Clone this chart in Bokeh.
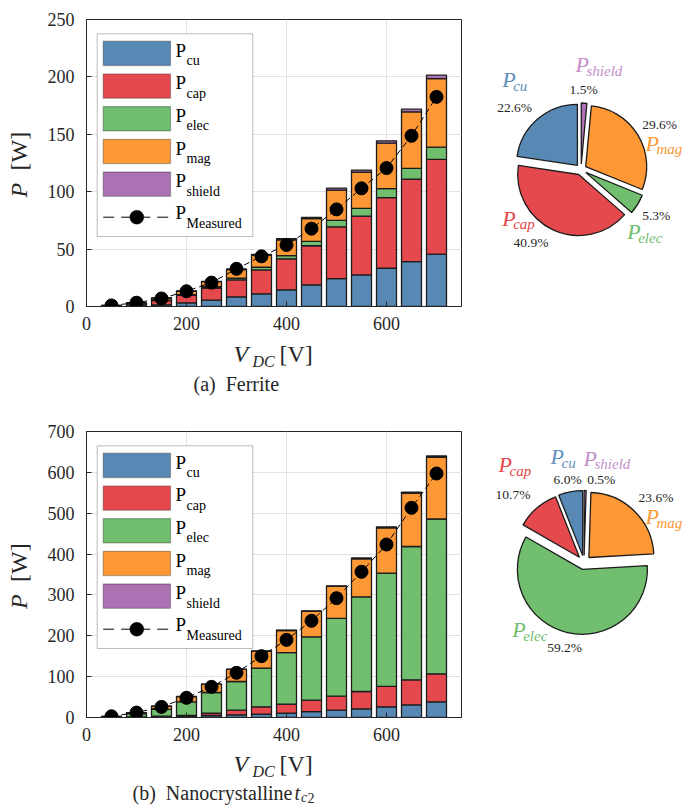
import math

from bokeh.plotting import figure
from bokeh.layouts import column, row
from bokeh.models import (ColumnDataSource, Range1d, FixedTicker, Label,
                          BoxAnnotation, Arrow)
from bokeh.embed import file_html
from bokeh.resources import INLINE

# ---------------------------------------------------------------- data
voltages = [50, 100, 150, 200, 250, 300, 350, 400, 450, 500, 550, 600, 650, 700]
loss_names = ["cu", "cap", "elec", "mag", "shield"]

# Ferrite core, loss breakdown [W]
ferrite_cu = [0.2, 0.6, 1.5, 3.2, 5.5, 8.4, 11.0, 14.5, 18.9, 24.3, 27.5, 33.3, 39.1, 45.6]
ferrite_cap = [0.5, 1.6, 3.6, 6.5, 10.6, 14.8, 20.9, 27.0, 34.0, 45.0, 51.3, 61.5, 71.9, 82.5]
ferrite_elec = [0.05, 0.2, 0.4, 0.7, 1.1, 1.6, 2.3, 2.8, 3.8, 5.8, 6.7, 7.8, 9.3, 10.7]
ferrite_mag = [0.2, 0.9, 1.9, 2.9, 4.4, 7.4, 10.4, 13.8, 19.8, 26.3, 31.6, 39.7, 49.3, 59.7]
ferrite_shield = [0.02, 0.05, 0.1, 0.2, 0.3, 0.5, 0.7, 1.0, 1.2, 1.8, 1.7, 2.0, 2.3, 3.0]
ferrite_measured = [0.9, 3.3, 7.0, 13.3, 20.8, 32.8, 43.7, 53.6, 67.8, 84.6, 102.9, 120.6, 148.7, 182.6]

# Nanocrystalline core (t_c2), loss breakdown [W]
nano_cu = [0.3, 0.6, 1.3, 1.8, 4.9, 6.6, 8.3, 10.8, 14.5, 18.0, 21.3, 26.2, 31.0, 38.4]
nano_cap = [0.4, 0.9, 2.0, 3.2, 5.9, 11.4, 17.9, 22.0, 28.0, 34.3, 42.3, 49.8, 61.3, 68.5]
nano_elec = [1.6, 8.0, 16.5, 33.4, 50.4, 70.1, 94.8, 126.2, 155.0, 190.1, 231.8, 277.4, 326.2, 378.9]
nano_mag = [0.6, 2.5, 8.0, 12.8, 20.3, 29.7, 41.5, 53.9, 62.3, 78.3, 93.2, 111.0, 130.3, 151.0]
nano_shield = [0.05, 0.1, 0.2, 0.3, 0.4, 0.6, 0.8, 1.0, 1.2, 1.6, 2.0, 2.4, 2.8, 3.2]
nano_measured = [3.0, 12.0, 26.0, 48.2, 75.0, 109.4, 150.2, 190.0, 236.7, 292.0, 356.6, 423.4, 513.2, 597.2]

x_ticks = [0, 200, 400, 600]
ferrite_y_ticks = [0, 50, 100, 150, 200, 250]
nano_y_ticks = [0, 100, 200, 300, 400, 500, 600, 700]

# ---------------------------------------------------------------- style
SERIF = "Liberation Serif"
INK = "#262626"
EDGE = "#1c1c1c"
loss_colors = ["#5889B4", "#E5484D", "#70BE6E", "#FD9834", "#AC72B4"]
name_colors = ["#5F90BC", "#E5484D", "#70BE6E", "#FD9834", "#C38ECB"]

PAGE_W = 683
YSTRIP_W = 40          # column holding the rotated y label
BAR_W = 430            # bar figure (tick labels + frame)
PIE_W = PAGE_W - YSTRIP_W - BAR_W
FRAME_W = 375
BAR_LEFT = 46
BAR_RIGHT = BAR_W - BAR_LEFT - FRAME_W
TICK_BAND = 33         # space under each frame for the x tick labels
MID_RISE = 0.34        # baseline -> vertical middle of the text box, in em


def put_text(p, x, y, text, size, color=INK, style="normal", units="screen",
             angle=0.0, align="left"):
    """(x, y) is the start of the text baseline; y grows upward."""
    rise = MID_RISE * size
    p.add_layout(Label(x=x - rise * math.sin(angle),
                       y=y + rise * math.cos(angle),
                       x_units=units, y_units=units, text=text,
                       text_font=SERIF, text_font_size=f"{size}px",
                       text_font_style=style, text_color=color,
                       text_align=align, text_baseline="middle",
                       angle=angle))


def page_text(p, x, y, text, size, **kw):
    """Text placed in page pixel coordinates on a page-mapped figure."""
    put_text(p, x, -y, text, size, units="data", **kw)


def screen_box(p, left, right, top, bottom, **kw):
    p.add_layout(BoxAnnotation(left=left, right=right, top=top, bottom=bottom,
                               left_units="screen", right_units="screen",
                               top_units="screen", bottom_units="screen",
                               fill_alpha=1.0, **kw))


def page_figure(width, height, x_lo, x_hi, y_top, y_bottom, border_top=0,
                border_bottom=0):
    """Axis-less figure whose data units are page pixels (y negated)."""
    p = figure(width=width, height=height,
               x_range=Range1d(x_lo, x_hi), y_range=Range1d(-y_bottom, -y_top),
               min_border=0, min_border_left=0, min_border_right=0,
               min_border_top=border_top, min_border_bottom=border_bottom,
               x_axis_location=None, y_axis_location=None,
               output_backend="svg", toolbar_location=None, title=None)
    p.grid.visible = False
    p.outline_line_color = None
    p.background_fill_color = "white"
    p.border_fill_color = "white"
    return p


def add_legend(p, fh):
    # all offsets are measured downward from the top of the frame
    def dn(v):
        return fh - v

    screen_box(p, 10.7, 166.3, dn(14.3), dn(217.0), fill_color="white",
               line_color=INK, line_width=1)
    for i, (name, col) in enumerate(zip(loss_names, loss_colors)):
        y0 = 21.7 + 32.7 * i
        screen_box(p, 16.7, 84.0, dn(y0), dn(y0 + 24.3), fill_color=col,
                   line_color=EDGE, line_width=1.3)
        put_text(p, 89, dn(y0 + 15.3), "P", 19, color="black")
        put_text(p, 100, dn(y0 + 24.0), name, 14, color="black")
    ym = 197.7
    p.add_layout(Arrow(end=None, x_start=16.7, y_start=dn(ym), x_end=84.0,
                       y_end=dn(ym), start_units="screen", end_units="screen",
                       line_color="black", line_width=1, line_dash="11 7"))
    screen_box(p, 50.3 - 7, 50.3 + 7, dn(ym - 7), dn(ym + 7),
               border_radius=7, fill_color="black", line_color="black",
               line_width=1)
    put_text(p, 89, dn(ym + 1.6), "P", 19, color="black")
    put_text(p, 100, dn(ym + 11.0), "Measured", 14, color="black")


def bar_panel(cu, cap, elec, mag, shield, measured, y_max, y_ticks, geom):
    row_y, frame_top, frame_h, border_bottom = geom
    src = ColumnDataSource(dict(V=voltages, cu=cu, cap=cap, elec=elec,
                                mag=mag, shield=shield))
    p = figure(frame_width=FRAME_W, frame_height=frame_h,
               x_range=Range1d(0, 750), y_range=Range1d(0, y_max),
               min_border_left=BAR_LEFT, min_border_right=BAR_RIGHT,
               min_border_top=frame_top - row_y, min_border_bottom=border_bottom,
               output_backend="svg", toolbar_location=None, title=None)
    p.background_fill_color = "white"
    p.border_fill_color = "white"
    p.outline_line_color = INK
    p.outline_line_width = 1
    p.outline_line_alpha = 1

    p.xaxis.ticker = FixedTicker(ticks=x_ticks)
    p.yaxis.ticker = FixedTicker(ticks=y_ticks)
    p.axis.major_label_text_font = SERIF
    p.axis.major_label_text_font_size = "18px"
    p.axis.major_label_text_color = INK
    p.axis.axis_line_color = INK
    p.axis.major_tick_line_color = INK
    p.axis.major_tick_in = 5
    p.axis.major_tick_out = 0
    p.axis.minor_tick_line_color = None
    p.xaxis.major_label_standoff = 10
    p.yaxis.major_label_standoff = 12
    p.grid.grid_line_color = "#E2E2E2"
    p.grid.grid_line_width = 1

    p.vbar_stack(loss_names, x="V", width=40, source=src,
                 fill_color=loss_colors, line_color=EDGE, line_width=1.3)
    p.line(voltages, measured, line_color="black", line_width=1,
           line_dash="6 4")
    p.scatter(voltages, measured, marker="circle", size=13,
              fill_color="black", line_color="black")

    add_legend(p, frame_h)
    return p


def row_height(geom):
    row_y, frame_top, frame_h, border_bottom = geom
    return frame_top - row_y + frame_h + border_bottom


def ylabel_panel(geom):
    row_y, frame_top, frame_h, border_bottom = geom
    p = page_figure(YSTRIP_W, row_height(geom), 0, YSTRIP_W, frame_top,
                    frame_top + frame_h, border_top=frame_top - row_y,
                    border_bottom=border_bottom)
    mid = frame_top + frame_h / 2
    page_text(p, 27, mid + 34.5, "P", 24, style="italic", angle=math.pi / 2)
    page_text(p, 27, mid + 7.5, "[W]", 24, angle=math.pi / 2)
    return p


def xlabel_panel(top, height, label_base, caption):
    p = page_figure(PAGE_W, height, 0, PAGE_W, top, top + height)
    base = top + label_base
    page_text(p, 233, base, "V", 24, style="italic")
    page_text(p, 252, base + 4.3, "DC", 16, style="italic")
    page_text(p, 279, base, "[V]", 24)
    for (x, dy, text, size, style) in caption:
        page_text(p, x, top + dy, text, size, style=style)
    return p


def pie_panel(values, center, radius, explode, geom, text_layout):
    row_y, frame_top, frame_h, border_bottom = geom
    p = page_figure(PIE_W, row_height(geom), PAGE_W - PIE_W, PAGE_W,
                    frame_top, frame_top + frame_h,
                    border_top=frame_top - row_y, border_bottom=border_bottom)
    total = sum(values)
    starts, ends, xs, ys = [], [], [], []
    a = math.pi / 2
    for v in values:
        span = 2 * math.pi * v / total
        mid = a + span / 2
        starts.append(a)
        ends.append(a + span)
        xs.append(center[0] + explode * math.cos(mid))
        ys.append(-center[1] + explode * math.sin(mid))
        a += span
    src = ColumnDataSource(dict(x=xs, y=ys, start=starts, end=ends,
                                color=loss_colors))
    p.wedge(x="x", y="y", radius=radius, start_angle="start",
            end_angle="end", direction="anticlock", fill_color="color",
            line_color=EDGE, line_width=1.3, source=src)

    for name, v, ncol in zip(loss_names, values, name_colors):
        (nx, ny), (px, py) = text_layout[name]
        page_text(p, nx, ny, "P", 22, color=ncol, style="italic")
        page_text(p, nx + 11, ny + 4, name, 15, color=ncol, style="italic")
        page_text(p, px, py, f"{100 * v / total:.1f}%", 13.5)
    return p


# text anchors (page pixels): name "P" baseline start, percentage baseline start
ferrite_pie_text = {
    "cu": ((501.7, 86.7), (496.7, 111.7)),
    "cap": ((501.7, 225.0), (513.0, 246.7)),
    "elec": ((626.7, 238.3), (641.7, 220.0)),
    "mag": ((645.0, 150.0), (641.7, 128.3)),
    "shield": ((575.0, 71.7), (569.0, 93.3)),
}
nano_pie_text = {
    "cu": ((550.0, 463.3), (553.0, 483.3)),
    "cap": ((498.0, 471.7), (495.0, 498.3)),
    "elec": ((511.7, 636.7), (546.7, 651.7)),
    "mag": ((645.0, 523.3), (638.0, 501.7)),
    "shield": ((583.0, 465.0), (586.7, 483.3)),
}

# ---------------------------------------------------------------- layout
# (row top, frame top, frame height, bottom border) in page pixels
TOP_GEOM = (0, 19, 287, TICK_BAND)
BOT_GEOM = (400, 431, 286, TICK_BAND)
top_strip = row_height(TOP_GEOM)                 # page y where the strip starts
bot_strip = 400 + row_height(BOT_GEOM)

# caption pieces: x, baseline offset from strip top, text, size, style
ferrite_caption = [(193, 390 - top_strip, "(a)\u00a0\u00a0Ferrite", 20, "normal")]
nano_caption = [(132, 799.5 - bot_strip, "(b)\u00a0\u00a0Nanocrystalline", 20, "normal"),
                (294, 799.5 - bot_strip, "t", 20, "italic"),
                (300.5, 802 - bot_strip, "c", 14, "italic"),
                (307, 802 - bot_strip, "2", 14, "normal")]

bar_top = bar_panel(ferrite_cu, ferrite_cap, ferrite_elec, ferrite_mag,
                    ferrite_shield, ferrite_measured, 250, ferrite_y_ticks,
                    TOP_GEOM)
bar_bottom = bar_panel(nano_cu, nano_cap, nano_elec, nano_mag, nano_shield,
                       nano_measured, 700, nano_y_ticks, BOT_GEOM)

# slices show the 700 V operating point
pie_top = pie_panel([s[-1] for s in (ferrite_cu, ferrite_cap, ferrite_elec,
                                     ferrite_mag, ferrite_shield)],
                    (580.5, 169.0), 61, 5.5, TOP_GEOM, ferrite_pie_text)
pie_bottom = pie_panel([s[-1] for s in (nano_cu, nano_cap, nano_elec,
                                        nano_mag, nano_shield)],
                       (583.5, 562.0), 65, 7, BOT_GEOM, nano_pie_text)

ylab_top = ylabel_panel(TOP_GEOM)
ylab_bottom = ylabel_panel(BOT_GEOM)
xlab_top = xlabel_panel(top_strip, 400 - top_strip, 361.7 - top_strip,
                        ferrite_caption)
xlab_bottom = xlabel_panel(bot_strip, 806 - bot_strip, 771.7 - bot_strip,
                           nano_caption)

layout = column(row(ylab_top, bar_top, pie_top), xlab_top,
                row(ylab_bottom, bar_bottom, pie_bottom), xlab_bottom)

with open("out.html", "w") as f:
    f.write(file_html(layout, INLINE))
